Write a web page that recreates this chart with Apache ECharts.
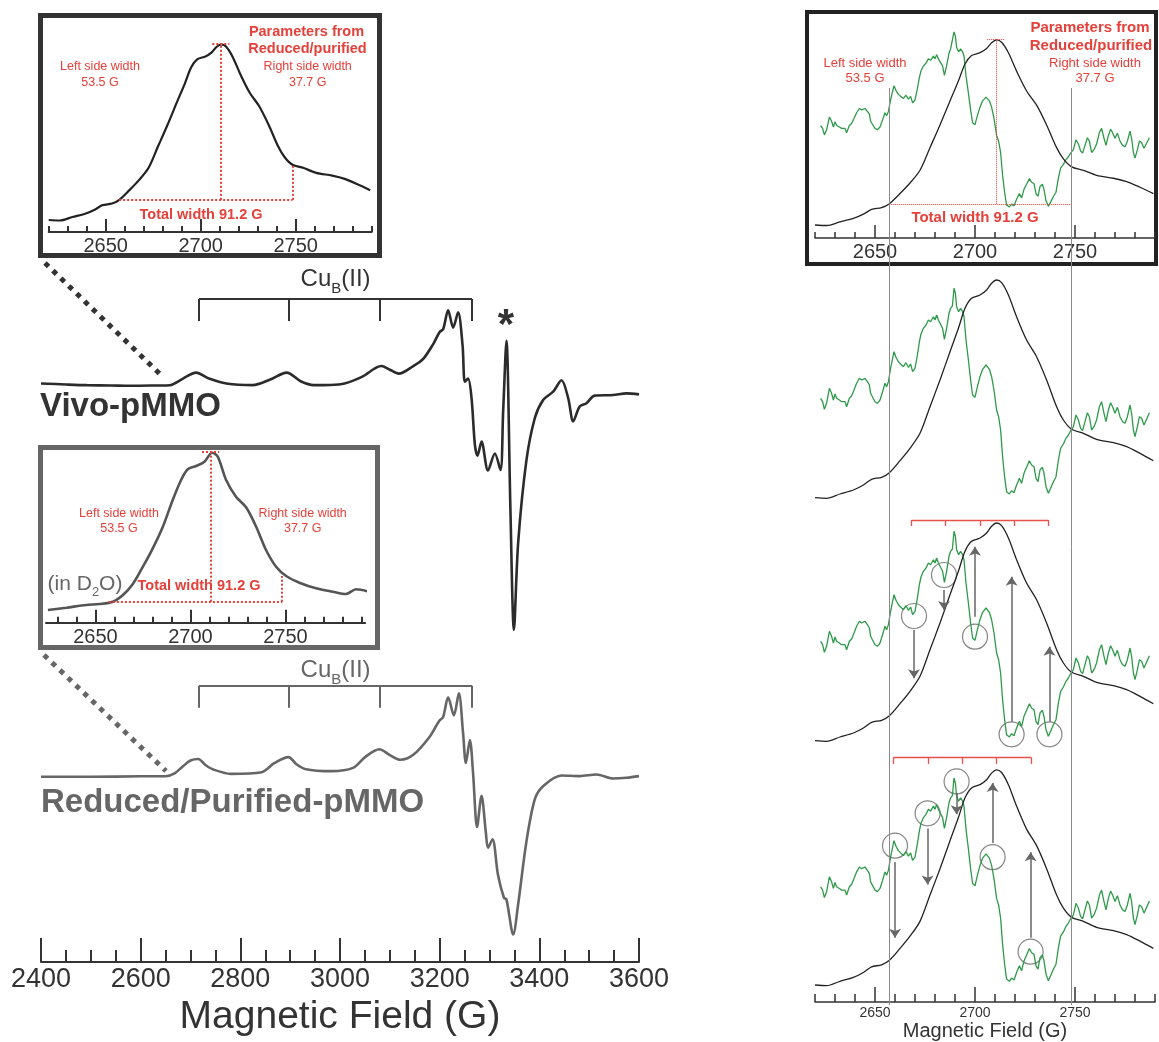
<!DOCTYPE html>
<html>
<head>
<meta charset="utf-8">
<title>pMMO EPR spectra</title>
<script src="https://cdn.jsdelivr.net/npm/echarts@6/dist/echarts.min.js"></script>
<style>
  html, body { margin: 0; padding: 0; background: #fff; }
  #chart { width: 1159px; height: 1042px; }
</style>
</head>
<body>
<div id="chart"></div>
<script>
// full sweep, [field (G), intensity (a.u.)]
const vivoSpectrum = [
  [2400, 0], [2450, -1], [2492, -1.7], [2540, -2], [2580, -2.3], [2630, -2], [2659, -1.7],
  [2685, 5], [2711, 11], [2737, 5], [2772, 0], [2825, -1.7], [2860, 4], [2893, 11],
  [2921, 2.3], [2947, -1.7], [2980, -1.5], [3009, 0], [3044, 6.7], [3083, 17.7], [3100, 14],
  [3118, 10], [3147, 17.7], [3167, 25], [3187, 40], [3200, 52.3], [3207, 55], [3217, 74.3],
  [3227, 56.7], [3237, 72.3], [3246, 38.3], [3250.5, 1.7], [3257, 5], [3264, -15],
  [3270.6, -61.7], [3276, -73.3], [3284, -59], [3297, -88.3], [3310.7, -71], [3322, -87.7],
  [3327.4, -28], [3334, 43.3], [3342, -128.3], [3349, -250], [3357.5, -161.7], [3374, -78.3],
  [3391, -35], [3407.6, -16.7], [3427.7, -8.3], [3444.5, 3.3], [3458, -15], [3468, -38.3],
  [3481, -23.3], [3494.6, -20], [3511, -12.3], [3548, -11.7], [3575, -10], [3600, -11]
];
const reducedSpectrum = [
  [2400, 0], [2500, 0], [2600, 0.5], [2650, 0.6], [2668, 3.5], [2685, 10.7], [2700, 16.5],
  [2715.6, 18], [2730, 12], [2746, 7.3], [2781, 3], [2842.5, 4.7], [2868.6, 14], [2896.7, 20],
  [2912, 13], [2929.6, 8], [2982, 5.7], [3026, 9], [3052, 20.7], [3079, 28], [3100, 22],
  [3121, 17.3], [3147, 22.3], [3180, 40.7], [3199, 56.7], [3207, 60.7], [3217, 80.7],
  [3228.5, 62.3], [3238.5, 84.7], [3247, 44], [3252.6, 14], [3260.6, 37.3], [3267, 4],
  [3275, -51], [3284, -19.3], [3292.6, -56], [3297, -72], [3306, -63.3], [3317, -99.3],
  [3329, -122.7], [3334, -124.3], [3347.6, -160], [3357.5, -129.3], [3374, -66], [3391, -22.7],
  [3408, -9.3], [3444.5, 1.3], [3481, 0.7], [3514.7, 2.3], [3548, -1.7], [3575, -1], [3600, 0.7]
];
const cuBHyperfine = [2717, 2898, 3079, 3265];
const mainTickStep = 200;

// g-parallel region: absorption and its derivative trace
const absorption = [
  [2620, 0], [2625.8, -0.6], [2632.5, 3.7], [2639.2, 7.7], [2644.2, 12.7], [2648.3, 18.4],
  [2653.3, 20.4], [2657.2, 25], [2662.5, 37], [2667.5, 49.4], [2672.5, 64.4], [2677.5, 91],
  [2682.5, 117.7], [2687.5, 146], [2691.7, 169.4], [2695, 189.4], [2698.3, 199.4],
  [2702.5, 202.7], [2705.8, 207.7], [2708.3, 214.4], [2710.8, 217.7], [2713.3, 215],
  [2716.7, 202.7], [2720.8, 181], [2725.8, 157.7], [2730.8, 141], [2735.8, 117.7],
  [2740.8, 91], [2744.2, 77.7], [2748.3, 68.4], [2754.2, 64.4], [2760.8, 58.4], [2769.2, 55],
  [2775.8, 51], [2782.5, 44.4], [2789.2, 37]
];
const absorptionD2O = [
  [2625, 0], [2634.7, 2.3], [2645.2, 5], [2652.2, 6], [2659.2, 8.3], [2664.5, 15], [2669.7, 26],
  [2675, 43.3], [2680.2, 61.7], [2685.5, 83.3], [2690.7, 110], [2695.1, 130], [2698.6, 140.7],
  [2703, 144], [2707.4, 148.3], [2711.4, 157.3], [2714.4, 153.3], [2718.8, 130], [2724, 113.3],
  [2729.3, 102.7], [2734.6, 83.3], [2739.8, 60], [2745.1, 43.3], [2750.4, 34], [2757.4, 27.3],
  [2766.1, 21.7], [2774.9, 18.3], [2781.9, 16], [2787.2, 20.7], [2795, 17.7]
];
const derivative = [
  [2622.8, 99.4], [2623.8, 96], [2624.7, 88.4], [2625.8, 94.4], [2627.2, 109.4], [2628.3, 104.4],
  [2629.2, 97.7], [2630, 103.7], [2630.8, 99.4], [2632.2, 97.7], [2633.3, 96], [2635, 96],
  [2635.8, 91], [2637.2, 99.4], [2638.3, 101.7], [2639.5, 107.7], [2640.8, 114.4], [2642.2, 119.4],
  [2643.3, 117.7], [2645, 119.4], [2646.2, 116], [2647.2, 112.7], [2647.8, 104.4], [2648.8, 102.7],
  [2650, 96], [2651.2, 94.4], [2652.5, 97.7], [2653.8, 106], [2655, 114.4], [2655.8, 111],
  [2656.7, 116], [2657.8, 129.4], [2658.8, 139.4], [2659.5, 146], [2660.5, 140.4], [2661.7, 136],
  [2662.8, 133.7], [2664.2, 131], [2665.5, 135], [2666.7, 130.4], [2667.8, 133.7], [2668.8, 126],
  [2670, 129.4], [2671.2, 142.7], [2672.2, 156], [2673, 163.7], [2674.2, 169.4], [2675.5, 172.7],
  [2676.7, 177.7], [2677.8, 176], [2679.2, 181], [2680, 177.7], [2680.8, 182.7], [2681.7, 177.7],
  [2682.5, 179.4], [2683.8, 169.4], [2684.7, 158.4], [2685.8, 169.4], [2687, 184.4], [2687.8, 189.4],
  [2688.7, 191.7], [2689.5, 209.4], [2690.2, 204.4], [2690.8, 191], [2691.8, 186], [2692.8, 189.4],
  [2693.8, 186], [2694.5, 181], [2695.5, 157.7], [2696.7, 137.7], [2697.8, 117.7], [2698.8, 102.7],
  [2700, 100.4], [2701.2, 111], [2702.5, 121], [2703.8, 128.4], [2705.5, 132.7], [2707.2, 128.4],
  [2708.3, 121], [2709.5, 107.7], [2710.8, 87.7], [2711.8, 81], [2712.8, 67.7], [2713.8, 41],
  [2714.8, 21], [2715.8, 6], [2717.2, 3.7], [2718.3, 7], [2719.5, 5], [2720.8, 12.7],
  [2722.2, 19.4], [2723.3, 14.4], [2724.5, 24.4], [2725.8, 30.4], [2727.2, 37], [2728.3, 32.7],
  [2729.5, 31], [2730.5, 19.4], [2731.5, 16], [2732.5, 27.7], [2733.7, 30.4], [2734.5, 24.4],
  [2735.5, 11], [2736.7, 4.4], [2737.8, 9.4], [2739.2, 16], [2740.5, 21], [2741.7, 37.7],
  [2742.8, 49.4], [2744.2, 53.7], [2745.5, 59.4], [2746.7, 62.7], [2747.8, 67], [2749.2, 71],
  [2750.5, 82.7], [2751.7, 77.7], [2752.8, 69.4], [2753.8, 67], [2755, 76], [2756.2, 85],
  [2757.2, 81], [2758.3, 67.7], [2759.5, 71], [2760.8, 77.7], [2762.2, 91], [2763.3, 96],
  [2764.5, 84.4], [2765.5, 76], [2766.7, 87.7], [2767.8, 95], [2768.8, 91], [2770, 84.4],
  [2771.2, 90.4], [2772.5, 81], [2773.8, 76], [2775, 74.4], [2776.2, 81], [2777.5, 92.7],
  [2778.3, 84.4], [2779.2, 67.7], [2780, 61], [2781.2, 71], [2782.2, 81], [2783.3, 79.4],
  [2784.5, 72.7], [2785.5, 71], [2786.7, 82.7], [2787.2, 85]
];

// width parameters from reduced/purified sample
const widthBounds = [2657.1, 2748.3];
const sideWidths = [53.5, 37.7];
const peakField = widthBounds[0] + sideWidths[0];

const insetMajorTicks = [2650, 2700, 2750];
const insetMinorTicks = [2620, 2630, 2640, 2660, 2670, 2680, 2690, 2710, 2720, 2730, 2740,
  2760, 2770, 2780, 2790];
const insetMinorTicksD2O = [2630, 2640, 2660, 2670, 2680, 2690, 2710, 2720, 2730, 2740,
  2760, 2770, 2780, 2790];

// red stick diagrams and circled features [field, value] / arrows [field, from, to]
const sticksA = [2668.3, 2685.3, 2702.5, 2719.5, 2736.7];
const sticksB = [2659.2, 2676.7, 2693.7, 2710.8, 2728.0];
const circledA = [[2669.5, 124.7], [2684.5, 165.7], [2700, 104], [2718.3, 6.4], [2737.2, 6.4]];
const arrowsA = [[2669.5, 110.7, 62.4], [2684.5, 150.7, 130.7], [2700, 124, 194],
  [2718.3, 19, 164], [2737.2, 19, 94]];
const circledB = [[2660, 141], [2676.3, 173.7], [2690.8, 206], [2708.8, 129.4], [2727.8, 33.7]];
const arrowsB = [[2660, 124.4, 47.7], [2676.3, 158.4, 101.7], [2690.8, 194.4, 172.7],
  [2708.8, 143.7, 204.4], [2727.8, 47.7, 134.4]];

const FONT = '"Liberation Sans", Arial, Helvetica, sans-serif';
const RED = "#e5403a";
const DARK = "#2b2b2b";
const GRAY = "#666666";
const GREEN = "#2e9a4a";

// value v is drawn at zeroPx - v * unitPx inside a grid spanning top..bottom
function yRange(zeroPx, unitPx, top, bottom) {
  return { min: (zeroPx - bottom) / unitPx, max: (zeroPx - top) / unitPx };
}

function nearestValue(data, field) {
  let best = data[0];
  data.forEach((p) => {
    if (Math.abs(p[0] - field) < Math.abs(best[0] - field)) best = p;
  });
  return best[1];
}

function widthMarks(data) {
  const base = nearestValue(data, widthBounds[0]);
  const right = nearestValue(data, widthBounds[1]);
  const top = Math.max(...data.map((p) => p[1]));
  return [
    [{ coord: [widthBounds[0], base] }, { coord: [widthBounds[1], base] }],
    [{ coord: [peakField, base] }, { coord: [peakField, top] }],
    [{ coord: [widthBounds[1], base] }, { coord: [widthBounds[1], right] }],
    [{ coord: [peakField - 4.5, top + 1] }, { coord: [peakField + 4.5, top + 1] }]
  ];
}

function bracket(fields, level, drop) {
  const segs = [[{ coord: [fields[0], level] }, { coord: [fields[fields.length - 1], level] }]];
  fields.forEach((f) => segs.push([{ coord: [f, level] }, { coord: [f, level - drop] }]));
  return segs;
}

function arrowLines(list) {
  return list.map((a) => [{ coord: [a[0], a[1]] }, { coord: [a[0], a[2]] }]);
}

function plainMarkLine(data, color, width, type, symbol) {
  return {
    silent: true,
    symbol: symbol || "none",
    symbolSize: 9,
    label: { show: false },
    lineStyle: { color, width, type: type || "solid", opacity: 1 },
    emphasis: { disabled: true },
    data
  };
}

function curve(data, xi, yi, color, width, extra) {
  return Object.assign({
    type: "line",
    xAxisIndex: xi,
    yAxisIndex: yi,
    data,
    showSymbol: false,
    clip: false,
    silent: true,
    smooth: 0.3,
    lineStyle: { color, width },
    itemStyle: { color }
  }, extra || {});
}

function circles(data, xi, yi, arrows) {
  return {
    type: "scatter",
    xAxisIndex: xi,
    yAxisIndex: yi,
    data,
    symbolSize: 25,
    silent: true,
    clip: false,
    itemStyle: { color: "rgba(0,0,0,0)", borderColor: "#666", borderWidth: 1.2 },
    markLine: plainMarkLine(arrowLines(arrows), "#666", 1.5, "solid", ["none", "arrow"])
  };
}

function hiddenX(gridIndex, min, max) {
  return { gridIndex, type: "value", min, max, show: false };
}

function hiddenY(gridIndex, range) {
  return { gridIndex, type: "value", min: range.min, max: range.max, show: false };
}

const plainNumber = (v) => String(v);

function tickAxis(gridIndex, min, max, ticks, length, width, label) {
  return {
    gridIndex,
    type: "value",
    position: "bottom",
    min,
    max,
    axisLine: { show: Boolean(label), onZero: false, lineStyle: { color: "#333", width } },
    axisTick: { inside: true, length, customValues: ticks, lineStyle: { color: "#333", width } },
    axisLabel: label
      ? Object.assign({ customValues: ticks, color: "#333", fontFamily: FONT, formatter: plainNumber }, label)
      : { show: false },
    splitLine: { show: false }
  };
}

function text(content, x, y, size, color, opts) {
  return {
    type: "text",
    x,
    y,
    silent: true,
    style: Object.assign({
      text: content,
      fill: color,
      fontSize: size,
      fontFamily: FONT,
      align: "center",
      verticalAlign: "middle",
      textAlign: "center",
      textVerticalAlign: "middle"
    }, opts || {})
  };
}

function subText(parts, x, y, size, color, opts) {
  return text(`{m|${parts[0]}}{s|${parts[1]}}{m|${parts[2]}}`, x, y, size, color, Object.assign({
    verticalAlign: "top",
    textVerticalAlign: "top",
    rich: {
      m: { fontSize: size, fill: color, fontFamily: FONT, verticalAlign: "top" },
      s: { fontSize: Math.round(size * 0.62), fill: color, fontFamily: FONT, verticalAlign: "top",
        padding: [Math.round(size * 0.57), 0, 0, 0] }
    }
  }, opts || {}));
}

function widthTexts(cx, rx, lx, y0, bigSize, smallSize, totalX, totalY, withHeader) {
  const bold = { fontWeight: "bold" };
  const out = [
    text("Left side width", lx, y0, smallSize, RED),
    text(`${sideWidths[0]} G`, lx, y0 + 15.5, smallSize, RED),
    text("Right side width", rx, y0, smallSize, RED),
    text(`${sideWidths[1]} G`, rx, y0 + 15.5, smallSize, RED),
    text(`Total width ${(sideWidths[0] + sideWidths[1]).toFixed(1)} G`, totalX, totalY, bigSize, RED, bold)
  ];
  if (withHeader) {
    out.push(text("Parameters from", cx, y0 - 35, bigSize, RED, bold));
    out.push(text("Reduced/purified", cx + 1, y0 - 17.5, bigSize, RED, bold));
  }
  return out;
}

const gMain = { left: 41, top: 280, width: 598, height: 692 };
const gInset1 = { left: 48.7, top: 20, width: 323, height: 212 };
const gInset2 = { left: 46, top: 450, width: 319.2, height: 172.7 };
const gP1 = { left: 815, top: 20, width: 340, height: 218 };
const gP2 = { left: 815, top: 270, width: 340, height: 240 };
const gP3 = { left: 815, top: 510, width: 340, height: 245 };
const gP4 = { left: 815, top: 757, width: 340, height: 248 };
const gFrame = { left: 815, top: 88, width: 340, height: 917 };

function bottomOf(g) { return g.top + g.height; }

const chart = echarts.init(document.getElementById("chart"), null, { renderer: "canvas" });

const option = {
  animation: false,
  backgroundColor: "#ffffff",
  grid: [gMain, gInset1, gInset2, gP1, gP2, gP3, gP4, gFrame],
  xAxis: [
    {
      gridIndex: 0,
      type: "value",
      min: 2400,
      max: 3600,
      interval: mainTickStep,
      name: "Magnetic Field (G)",
      nameLocation: "middle",
      nameGap: 34,
      nameTextStyle: { fontSize: 39, color: "#333", fontFamily: FONT },
      axisLine: { onZero: false, lineStyle: { color: "#333", width: 2 } },
      axisTick: { inside: true, length: 24, lineStyle: { color: "#333", width: 2 } },
      minorTick: { show: true, splitNumber: 4, length: 12, lineStyle: { color: "#333", width: 2 } },
      axisLabel: { fontSize: 27, color: "#333", fontFamily: FONT, margin: 4, formatter: plainNumber },
      splitLine: { show: false }
    },
    tickAxis(1, 2620, 2790, insetMajorTicks, 13, 2, { fontSize: 20, margin: 4 }),
    tickAxis(1, 2620, 2790, insetMinorTicks, 6, 2, null),
    tickAxis(2, 2624, 2792, insetMajorTicks, 13, 2, { fontSize: 20, margin: 5 }),
    tickAxis(2, 2624, 2792, insetMinorTicksD2O, 6, 2, null),
    tickAxis(3, 2620, 2790, insetMajorTicks, 13, 1.5, { fontSize: 20, margin: 4 }),
    tickAxis(3, 2620, 2790, insetMinorTicks, 6, 1.5, null),
    hiddenX(4, 2620, 2790),
    hiddenX(5, 2620, 2790),
    Object.assign(tickAxis(6, 2620, 2790, insetMajorTicks, 15, 1.5, { fontSize: 14, margin: 4 }), {
      name: "Magnetic Field (G)",
      nameLocation: "middle",
      nameGap: 17,
      nameTextStyle: { fontSize: 20, color: "#333", fontFamily: FONT }
    }),
    tickAxis(6, 2620, 2790, insetMinorTicks, 8, 1.5, null),
    hiddenX(7, 2620, 2790)
  ],
  yAxis: [
    hiddenY(0, yRange(385, 1, gMain.top, bottomOf(gMain))),
    hiddenY(0, yRange(784, 1, gMain.top, bottomOf(gMain))),
    hiddenY(1, yRange(220, 0.807, gInset1.top, bottomOf(gInset1))),
    hiddenY(2, yRange(610, 1, gInset2.top, bottomOf(gInset2))),
    hiddenY(3, yRange(225, 0.85, gP1.top, bottomOf(gP1))),
    hiddenY(3, yRange(210.1, 0.851, gP1.top, bottomOf(gP1))),
    hiddenY(4, yRange(497.7, 1, gP2.top, bottomOf(gP2))),
    hiddenY(5, yRange(740.7, 1, gP3.top, bottomOf(gP3))),
    hiddenY(6, yRange(987.7, 1, gP4.top, bottomOf(gP4))),
    { gridIndex: 7, type: "value", min: 0, max: 1, show: false }
  ],
  series: [
    curve(vivoSpectrum, 0, 0, DARK, 2.6, {
      markLine: plainMarkLine(bracket(cuBHyperfine, 85.7, 22.4), "#333", 2)
    }),
    curve(reducedSpectrum, 0, 1, GRAY, 2.6, {
      markLine: plainMarkLine(bracket(cuBHyperfine, 92.3, 22.3), GRAY, 2)
    }),
    curve(absorption, 1, 2, "#222", 2.2, {
      markLine: plainMarkLine(widthMarks(absorption), RED, 2, "dotted")
    }),
    curve(absorptionD2O, 3, 3, "#555", 2.6, {
      markLine: plainMarkLine(widthMarks(absorptionD2O), RED, 2, "dotted")
    }),
    curve(derivative, 5, 5, GREEN, 1.3, { smooth: false }),
    curve(absorption, 5, 4, "#222", 1.3, {
      markLine: plainMarkLine(widthMarks(absorption), RED, 1, "dotted")
    }),
    curve(derivative, 7, 6, GREEN, 1.3, { smooth: false }),
    curve(absorption, 7, 6, "#222", 1.3),
    curve(derivative, 8, 7, GREEN, 1.3, {
      smooth: false,
      markLine: plainMarkLine(bracket(sticksA, 220.7, 6), "#e8504a", 1.3)
    }),
    curve(absorption, 8, 7, "#222", 1.3),
    circles(circledA, 8, 7, arrowsA),
    curve(derivative, 9, 8, GREEN, 1.3, {
      smooth: false,
      markLine: plainMarkLine(bracket(sticksB, 230.4, 6.7), "#e8504a", 1.3)
    }),
    curve(absorption, 9, 8, "#222", 1.3),
    circles(circledB, 9, 8, arrowsB),
    {
      type: "line",
      xAxisIndex: 11,
      yAxisIndex: 9,
      data: [],
      silent: true,
      markLine: plainMarkLine(widthBounds.map((f) => ({ xAxis: f })), "#8a8a8a", 1)
    }
  ],
  graphic: [
    // inset frames and zoom connectors
    { type: "rect", silent: true, shape: { x: 40.5, y: 15.5, width: 339, height: 240 },
      style: { fill: "none", stroke: "#333", lineWidth: 5 } },
    { type: "rect", silent: true, shape: { x: 40.5, y: 447.5, width: 337, height: 200 },
      style: { fill: "none", stroke: GRAY, lineWidth: 5 } },
    { type: "rect", silent: true, shape: { x: 807, y: 12, width: 349, height: 252 },
      style: { fill: "none", stroke: "#222", lineWidth: 4 } },
    { type: "line", silent: true, shape: { x1: 45, y1: 263, x2: 162, y2: 376 },
      style: { stroke: "#333", lineWidth: 5, lineDash: [5, 6] } },
    { type: "line", silent: true, shape: { x1: 44, y1: 655, x2: 166, y2: 771 },
      style: { stroke: GRAY, lineWidth: 5, lineDash: [5, 6] } },
    // main panel labels
    text("Vivo-pMMO", 40, 407, 33, "#333", { fontWeight: "bold", align: "left", textAlign: "left" }),
    text("Reduced/Purified-pMMO", 41, 803, 33, GRAY, { fontWeight: "bold", align: "left", textAlign: "left" }),
    subText(["Cu", "B", "(II)"], 335.6, 267, 24, "#333"),
    subText(["Cu", "B", "(II)"], 335.6, 658, 24, GRAY),
    text("*", 506, 326, 42, "#333", { fontWeight: "bold" }),
    subText(["(in D", "2", "O)"], 85, 574, 21, GRAY),
    // width annotations
    ...widthTexts(306.5, 307.7, 100, 66.7, 14.5, 12.5, 201, 215, true),
    ...widthTexts(306, 302.7, 119, 513.3, 14.5, 12.5, 199, 585.7, false),
    ...widthTexts(1090, 1095, 865, 63, 15, 13, 975, 218, true)
  ]
};

chart.setOption(option);
</script>
</body>
</html>
